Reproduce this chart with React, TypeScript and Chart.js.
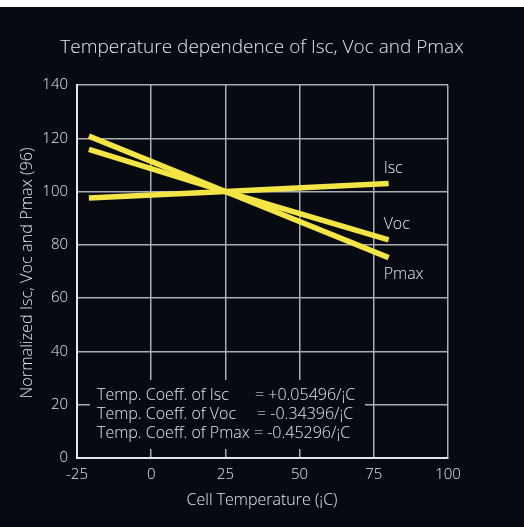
import React, { useEffect, useRef } from "react";
import { Chart, registerables } from "chart.js";

Chart.register(...registerables);

const temperatures = [-21, 25, 80];
const iscValues = [97.6, 100, 103.0];
const vocValues = [115.8, 100, 81.9];
const pmaxValues = [120.8, 100, 75.2];
const seriesNames = ["Isc", "Voc", "Pmax"];
const coeffLabels = ["Temp. Coeff. of Isc", "Temp. Coeff. of Voc", "Temp. Coeff. of Pmax"];
const coeffValues = ["= +0.05496/¡C", "= -0.34396/¡C", "= -0.45296/¡C"];
const titleText = "Temperature dependence of Isc, Voc and Pmax";
const xTitle = "Cell Temperature (¡C)";
const yTitle = "Normalized Isc, Voc and Pmax (96)";

const FONT = "'Open Sans', 'Noto Sans', sans-serif";
const BG = "#070a10";
const TEXT = "#e2e7ec";
const YELLOW = "#f2e545";

export default function App() {
  const ref = useRef<HTMLCanvasElement | null>(null);
  useEffect(() => {
    if (!ref.current) return;
    const decor = {
      id: "decor",
      beforeDraw(chart: any) {
        const ctx = chart.ctx;
        ctx.save();
        ctx.fillStyle = "#ffffff";
        ctx.fillRect(0, 0, chart.width, chart.height);
        ctx.fillStyle = BG;
        ctx.fillRect(0, 7, chart.width, chart.height - 7);
        ctx.restore();
      },
      beforeDatasetsDraw(chart: any) {
        const ctx = chart.ctx;
        ctx.save();
        ctx.fillStyle = BG;
        ctx.fillRect(90, 380, 275, 69);
        ctx.fillStyle = TEXT;
        ctx.font = `300 16px ${FONT}`;
        ctx.textBaseline = "middle";
        ctx.textAlign = "left";
        const rowsY = [395, 414, 433];
        const eqX = [255, 257, 0];
        coeffLabels.forEach((t, i) => {
          ctx.fillText(t, 97, rowsY[i]);
          const x0 = i === 2 ? 97 + ctx.measureText(t + " ").width : eqX[i];
          ctx.fillText(coeffValues[i], x0, rowsY[i]);
        });
        ctx.font = `300 19px ${FONT}`;
        ctx.textAlign = "center";
        ctx.fillText(titleText, 262, 48);
        ctx.font = `300 16px ${FONT}`;
        ctx.fillText(xTitle, 262, 500);
        ctx.font = `300 16.3px ${FONT}`;
        ctx.translate(27, 273);
        ctx.rotate(-Math.PI / 2);
        ctx.fillText(yTitle, 0, 0);
        ctx.restore();
      },
      afterDatasetsDraw(chart: any) {
        const ctx = chart.ctx;
        const xs = chart.scales.x;
        const ys = chart.scales.y;
        const lastX = temperatures[temperatures.length - 1];
        const ends = [iscValues[2], vocValues[2], pmaxValues[2]];
        const offsets = [-15, -15, 17];
        ctx.save();
        ctx.fillStyle = TEXT;
        ctx.font = `300 16px ${FONT}`;
        ctx.textAlign = "left";
        ctx.textBaseline = "middle";
        seriesNames.forEach((n, i) => {
          ctx.fillText(n, xs.getPixelForValue(lastX) - 5, ys.getPixelForValue(ends[i]) + offsets[i]);
        });
        ctx.restore();
      },
    };
    const mk = (label: string, vals: number[]) => ({
      label,
      data: temperatures.map((t, i) => ({ x: t, y: vals[i] })),
      borderColor: YELLOW,
      backgroundColor: YELLOW,
      borderWidth: 5.5,
      pointRadius: 0,
      borderCapStyle: "butt" as const,
      tension: 0,
    });
    const chart = new Chart(ref.current, {
      type: "line",
      data: {
        datasets: [mk("Isc", iscValues), mk("Voc", vocValues), mk("Pmax", pmaxValues)],
      },
      options: {
        animation: false,
        responsive: false,
        devicePixelRatio: 1,
        layout: { padding: { left: 0, top: 85, right: 76, bottom: 0 } },
        plugins: { legend: { display: false }, tooltip: { enabled: false }, title: { display: false } },
        scales: {
          x: {
            type: "linear",
            min: -25,
            max: 100,
            afterFit: (s: any) => { s.height = 69; },
            ticks: { stepSize: 25, color: TEXT, font: { family: FONT, size: 15, weight: 300 }, padding: 8 },
            grid: { color: "#a9aeb4", lineWidth: 1.5, drawTicks: false },
            border: { color: "#e2e8ee", width: 2 },
          },
          y: {
            min: 0,
            max: 140,
            afterFit: (s: any) => { s.width = 77; },
            ticks: { stepSize: 20, color: TEXT, font: { family: FONT, size: 15, weight: 300 }, padding: 9 },
            grid: { color: "#a9aeb4", lineWidth: 1.5, drawTicks: false },
            border: { color: "#e2e8ee", width: 2 },
          },
        },
      },
      plugins: [decor],
    });
    return () => chart.destroy();
  }, []);
  return (
    <div style={{ position: "absolute", left: 0, top: 0, width: 524, height: 527 }}>
      <canvas ref={ref} width={524} height={527} style={{ display: "block" }} />
    </div>
  );
}
